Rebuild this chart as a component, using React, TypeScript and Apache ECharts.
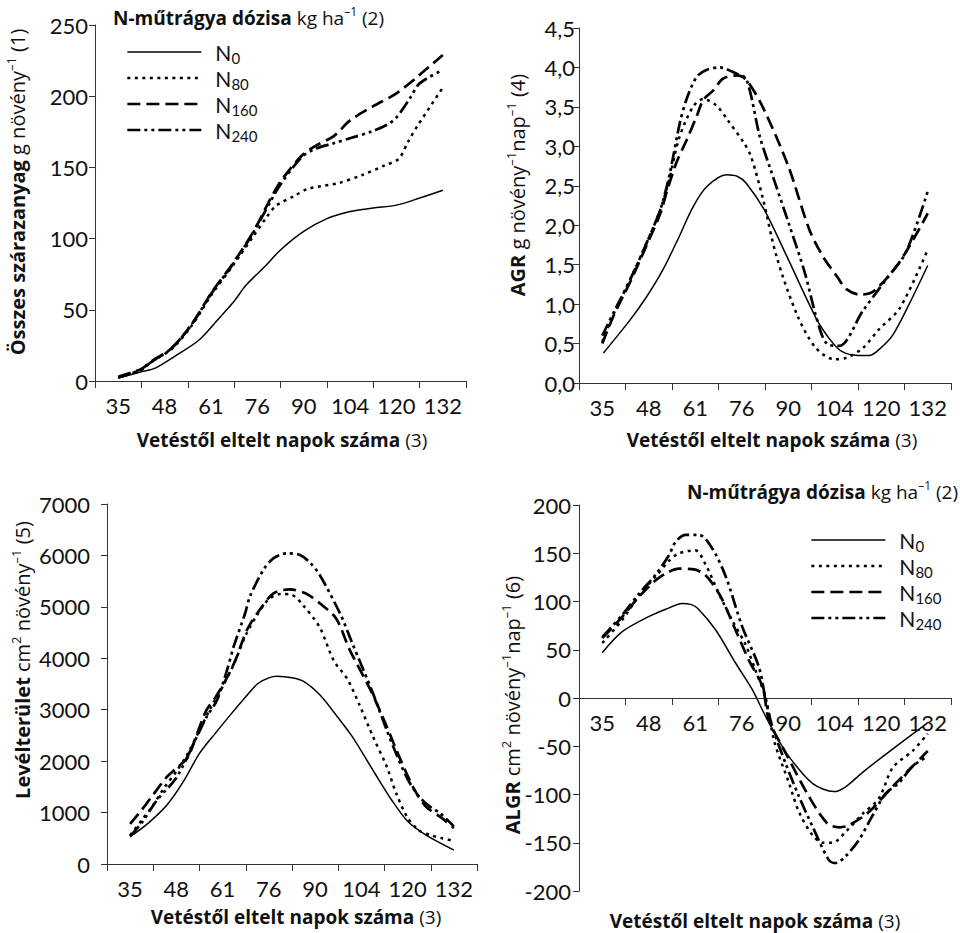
import React, { useEffect, useRef } from 'react';
import * as echarts from 'echarts';

// Category (day) labels shown under each x axis
const dayLabels = ['35', '48', '61', '76', '90', '104', '120', '132'];
const seriesNames = ['N0', 'N80', 'N160', 'N240'];

// x values are positions in half-category units: category i centre = 2*i + 1 (0..16 axis)
// Panel 1: total dry matter (g plant-1)
const dmN0 = [[1, 2], [2, 6.5], [2.6, 9], [3.5, 18], [4.5, 29], [5.4, 45], [6, 56], [6.5, 67], [7.3, 80], [8, 92], [9, 105], [10, 114], [11, 119], [12, 121.5], [13, 123.5], [14, 128.5], [15, 134]];
const dmN80 = [[1, 2.5], [2, 8], [2.4, 13], [3.3, 22.5], [4.2, 39.5], [5.0, 60], [5.9, 80], [6.8, 101], [7.4, 115], [7.8, 123], [8.6, 130], [9.2, 135], [10.5, 139], [11.5, 144.5], [12.5, 151.5], [13.1, 156], [13.5, 168], [13.9, 179], [15, 206]];
const dmN160 = [[1, 3], [2, 8.5], [2.4, 13.5], [3.3, 23], [4.2, 40.5], [5.0, 61.5], [5.9, 81.5], [6.8, 104], [7.6, 129], [8, 140], [8.9, 158], [9.5, 165], [10.3, 172], [11, 183], [12, 193], [13, 202], [14, 215], [15, 229]];
const dmN240 = [[1, 2.5], [2, 8], [2.4, 13], [3.3, 23], [4.2, 40.5], [5.0, 61], [5.9, 81], [6.8, 103.5], [7.6, 127], [8, 138], [8.9, 157], [9.5, 163], [10.3, 167], [11.1, 171], [11.9, 175], [12.6, 180], [13, 185], [13.6, 199], [14, 209], [15, 218.5]];

// Panel 2: AGR (g plant-1 day-1)
const agrN0 = [[1.05, 0.38], [2.2, 0.8], [2.9, 1.09], [3.6, 1.43], [4.3, 1.85], [4.9, 2.23], [5.5, 2.49], [6.35, 2.64], [6.8, 2.62], [7.2, 2.53], [8.0, 2.18], [8.9, 1.63], [10.2, 0.82], [10.8, 0.55], [11.3, 0.4], [12.0, 0.35], [12.5, 0.35], [13.0, 0.45], [13.5, 0.61], [14.2, 1.0], [15, 1.49]];
const agrN80 = [[1, 0.52], [1.5, 0.88], [2.2, 1.31], [2.9, 1.77], [3.5, 2.2], [3.9, 2.6], [4.3, 3.1], [4.9, 3.5], [5.35, 3.6], [5.9, 3.52], [6.4, 3.33], [7.1, 3.04], [7.4, 2.87], [7.9, 2.35], [8.5, 1.6], [9.4, 0.85], [10.2, 0.44], [11.0, 0.3], [11.5, 0.32], [12.2, 0.44], [12.9, 0.68], [13.8, 0.95], [15, 1.69]];
const agrN160 = [[1, 0.5], [1.5, 0.86], [2.2, 1.28], [2.9, 1.74], [3.5, 2.15], [3.8, 2.45], [4.2, 2.8], [4.63, 3.08], [5.06, 3.38], [5.35, 3.59], [5.78, 3.71], [6.2, 3.86], [6.8, 3.9], [7.2, 3.84], [7.9, 3.5], [9.0, 2.75], [9.9, 1.95], [10.5, 1.6], [11.1, 1.35], [11.5, 1.19], [12.1, 1.12], [12.7, 1.17], [13.8, 1.54], [15, 2.15]];
const agrN240 = [[1, 0.6], [1.5, 0.9], [2.2, 1.31], [2.9, 1.77], [3.5, 2.2], [3.9, 2.65], [4.34, 3.3], [4.63, 3.6], [5.06, 3.88], [5.5, 3.97], [6.06, 4.0], [6.78, 3.92], [7.2, 3.85], [7.78, 3.12], [8.2, 2.74], [9.07, 1.98], [9.72, 1.39], [10.22, 0.82], [10.65, 0.5], [11.2, 0.47], [12.2, 0.91], [13.2, 1.31], [14.05, 1.65], [15, 2.43]];

// Panel 3: leaf area (cm2 plant-1)
const laN0 = [[1, 530], [1.8, 800], [2.6, 1150], [3.3, 1600], [4.0, 2150], [4.7, 2550], [5.3, 2880], [6.0, 3250], [6.5, 3500], [7.0, 3620], [7.35, 3650], [8.0, 3620], [8.5, 3550], [9.2, 3290], [9.9, 2900], [10.6, 2480], [11.6, 1750], [12.3, 1250], [13.0, 830], [13.8, 560], [15, 270]];
const laN80 = [[1, 560], [1.5, 850], [2.0, 1150], [2.5, 1500], [3.0, 1800], [3.5, 2150], [4.0, 2600], [4.5, 3050], [5.0, 3450], [5.5, 3900], [6.0, 4450], [6.5, 4850], [7.0, 5150], [7.5, 5250], [8.0, 5230], [8.5, 5020], [9.2, 4600], [9.8, 3960], [10.4, 3590], [10.95, 3060], [11.5, 2480], [12.1, 1890], [12.5, 1380], [13.0, 900], [13.5, 650], [14.0, 560], [14.5, 500], [15, 450]];
const laN160 = [[1, 780], [1.5, 1050], [2.0, 1350], [2.6, 1700], [3.0, 1860], [3.5, 2080], [3.9, 2540], [4.3, 2990], [4.7, 3250], [5.1, 3550], [5.55, 3960], [6.05, 4550], [6.6, 4940], [7.2, 5260], [7.9, 5340], [8.6, 5260], [9.2, 5070], [9.9, 4780], [10.5, 4160], [11.4, 3380], [12.1, 2670], [12.7, 2020], [13.3, 1440], [13.8, 1110], [14.4, 920], [15, 700]];
const laN240 = [[1, 540], [1.5, 800], [2.16, 1240], [3.03, 1700], [3.89, 2480], [4.32, 2870], [4.76, 3190], [5.19, 3770], [5.48, 4230], [5.97, 4870], [6.18, 5200], [6.76, 5716], [7.19, 5944], [7.77, 6041], [8.35, 6008], [8.8, 5850], [9.2, 5620], [10.1, 4850], [10.6, 4300], [11.5, 3320], [12.1, 2600], [12.5, 2150], [13.0, 1650], [13.5, 1310], [14.0, 1100], [14.4, 990], [15, 730]];

// Panel 4: ALGR (cm2 plant-1 day-1)
const algrN0 = [[1, 47], [1.86, 68.7], [3.0, 84.3], [3.73, 91.9], [4.44, 98], [4.8, 97], [5.1, 93], [5.88, 70.5], [6.74, 36], [7.46, 8.3], [8.03, -19.3], [8.5, -40], [9.03, -60.8], [10.04, -88.4], [10.97, -97], [11.47, -92], [12.2, -77], [13.05, -61], [14.98, -26]];
const algrN80 = [[1, 57], [1.86, 81], [2.58, 106], [3.3, 126], [3.87, 142], [4.3, 150], [5.0, 153], [5.45, 138], [6.02, 108], [6.6, 80], [7.17, 55], [7.6, 28], [8.03, 0], [8.4, -45], [9.03, -88], [9.46, -118], [10.04, -142], [10.5, -150], [10.9, -150], [11.5, -138], [12.2, -120], [12.9, -104], [13.5, -72], [14.34, -55], [15, -37]];
const algrN160 = [[1, 62], [1.86, 84], [2.58, 105], [3.3, 122], [3.8, 130], [4.3, 134], [5.0, 133], [5.4, 128], [5.73, 119], [6.16, 102], [6.74, 70], [7.31, 39], [7.89, 12], [8.17, -23], [8.89, -57], [9.89, -102], [10.68, -130], [11.2, -134], [11.6, -132], [12.47, -118], [13.48, -92], [15, -55]];
const algrN240 = [[1, 63], [1.86, 86], [2.58, 108], [3.3, 128], [3.87, 148], [4.16, 162], [4.59, 169], [5.16, 169], [5.73, 155], [6.31, 126], [7.02, 74], [7.74, 32], [8.03, -2], [8.32, -30], [8.89, -68], [9.46, -102], [10.04, -133], [10.75, -168], [11.04, -171], [11.47, -164], [12.04, -147], [12.6, -123], [13.19, -99], [13.76, -88], [14.34, -71], [15, -60]];

// y-axis scales
const yMin = [0, 0, 0, -200];
const yMax = [250, 4.5, 7000, 200];
const yInterval = [50, 0.5, 1000, 50];

const FONT = '"Open Sans", "DejaVu Sans", sans-serif';
const NUMFONT = 'Lato, "Open Sans", sans-serif';
const INK = '#111';
const AXIS = '#333';

const lineStyles: any[] = [
  { width: 1.5, type: 'solid' },
  { width: 2.5, type: [3, 4.5] },
  { width: 2.7, type: [13, 6] },
  { width: 2.7, type: [13, 4, 3, 4, 3, 4] },
];

const mkRich = (size: number) => ({
  b: { fontFamily: FONT, fontSize: size, fontWeight: 'bold', color: INK, lineHeight: size + 6 },
  r: { fontFamily: FONT, fontSize: size, color: INK, lineHeight: size + 6 },
  sup: { fontFamily: FONT, fontSize: Math.round(size * 0.65), color: INK, lineHeight: Math.round(size * 0.75), verticalAlign: 'top' },
});

function App() {
  const ref = useRef<HTMLDivElement>(null);
  useEffect(() => {
    if (!ref.current) return;
    const chart = echarts.init(ref.current, undefined, { renderer: 'svg' });
    const panels = [
      [dmN0, dmN80, dmN160, dmN240],
      [agrN0, agrN80, agrN160, agrN240],
      [laN0, laN80, laN160, laN240],
      [algrN0, algrN80, algrN160, algrN240],
    ];
    const grids = [
      { left: 95, top: 25, width: 371, height: 356 },
      { left: 579, top: 28, width: 372, height: 355 },
      { left: 107, top: 504, width: 370, height: 360 },
      { left: 579, top: 505, width: 372, height: 386 },
    ];
    const labelMargins = [7, 4, 17, 8];
    // category label axis sits on the zero line in panel 4
    const catOffset = [0, 0, 0, -193];
    const xAxes: any[] = [];
    const yAxes: any[] = [];
    const series: any[] = [];
    panels.forEach((sets, i) => {
      xAxes.push({
        type: 'value', gridIndex: i, min: 0, max: 16, interval: 2, position: 'bottom',
        axisLine: { show: true, onZero: true, lineStyle: { color: AXIS, width: 1 } },
        axisTick: { show: true, length: 7, lineStyle: { color: AXIS } },
        axisLabel: { show: false }, splitLine: { show: false },
      });
      xAxes.push({
        type: 'category', gridIndex: i, data: dayLabels, boundaryGap: true, position: 'bottom',
        offset: catOffset[i],
        axisLine: { show: false, onZero: false }, axisTick: { show: false },
        axisLabel: { interval: 0, fontFamily: NUMFONT, fontSize: 22, color: INK, margin: 13 },
        splitLine: { show: false },
      });
      yAxes.push({
        type: 'value', gridIndex: i, min: yMin[i], max: yMax[i], interval: yInterval[i],
        axisLine: { show: true, lineStyle: { color: AXIS, width: 1 } },
        axisTick: { show: true, length: 6, lineStyle: { color: AXIS } },
        splitLine: { show: false },
        axisLabel: {
          fontFamily: NUMFONT, fontSize: 22, color: INK, margin: labelMargins[i],
          formatter: i === 1 ? (v: number) => v.toFixed(1).replace('.', ',') : (v: number) => String(v),
        },
      });
      sets.forEach((d, k) => {
        series.push({
          type: 'line', name: seriesNames[k], xAxisIndex: i * 2, yAxisIndex: i,
          data: d, symbol: 'none', showSymbol: false, smooth: 0.3,
          itemStyle: { color: '#000' },
          lineStyle: { color: '#000', ...lineStyles[k] },
          z: 10 - k,
        });
      });
    });

    const legendCommon = {
      orient: 'vertical', selectedMode: false, itemWidth: 74, itemHeight: 14, itemGap: 0,
      padding: 0,
      itemStyle: { color: 'rgba(0,0,0,0)', borderColor: 'rgba(0,0,0,0)', borderWidth: 0 },
      lineStyle: { width: 'inherit' },
      formatter: (name: string) => `{n|N}{s|${name.slice(1)}}`,
      textStyle: {
        rich: {
          n: { fontFamily: NUMFONT, fontSize: 21, color: INK, lineHeight: 22, padding: [0, 0, 0, 9] },
          s: { fontFamily: NUMFONT, fontSize: 15, color: INK, lineHeight: 14, padding: [11, 0, 0, 0] },
        },
      },
      data: seriesNames,
    };

    const textG = (x: number, y: number, text: string, align: string, size: number, rot = 0) => ({
      type: 'text', x, y, rotation: rot, silent: true,
      style: { text, rich: mkRich(size), align, verticalAlign: 'middle', fill: INK, font: `${size}px ${FONT}` },
    });

    const legendTitle = '{b|N-műtrágya dózisa}{r| kg ha}{sup|–1}{r| (2)}';
    const xTitle = '{b|Vetéstől eltelt napok száma}{r| (3)}';

    chart.setOption({
      animation: false,
      backgroundColor: '#fff',
      grid: grids,
      xAxis: xAxes,
      yAxis: yAxes,
      series,
      legend: [
        { ...legendCommon, left: 126, top: 39 },
        { ...legendCommon, left: 810, top: 527 },
      ],
      graphic: [
        textG(113, 18, legendTitle, 'left', 19),
        textG(958, 492, legendTitle, 'right', 19),
        textG(282, 440, xTitle, 'center', 19),
        textG(772, 440, xTitle, 'center', 19),
        textG(296, 917, xTitle, 'center', 19),
        textG(755, 921, xTitle, 'center', 19),
        textG(17, 192, '{b|Összes szárazanyag}{r| g növény}{sup|–1}{r| (1)}', 'center', 20, Math.PI / 2),
        textG(517, 185, '{b|AGR}{r| g növény}{sup|–1}{r|nap}{sup|–1}{r| (4)}', 'center', 20, Math.PI / 2),
        textG(22, 660, '{b|Levélterület}{r| cm}{sup|2}{r| növény}{sup|–1}{r| (5)}', 'center', 20, Math.PI / 2),
        textG(512, 705, '{b|ALGR}{r| cm}{sup|2}{r| növény}{sup|–1}{r|nap}{sup|–1}{r| (6)}', 'center', 20, Math.PI / 2),
      ],
    });
    return () => chart.dispose();
  }, []);
  return <div ref={ref} style={{ position: 'fixed', left: 0, top: 0, width: 960, height: 933, background: '#fff' }} />;
}

export default App;
